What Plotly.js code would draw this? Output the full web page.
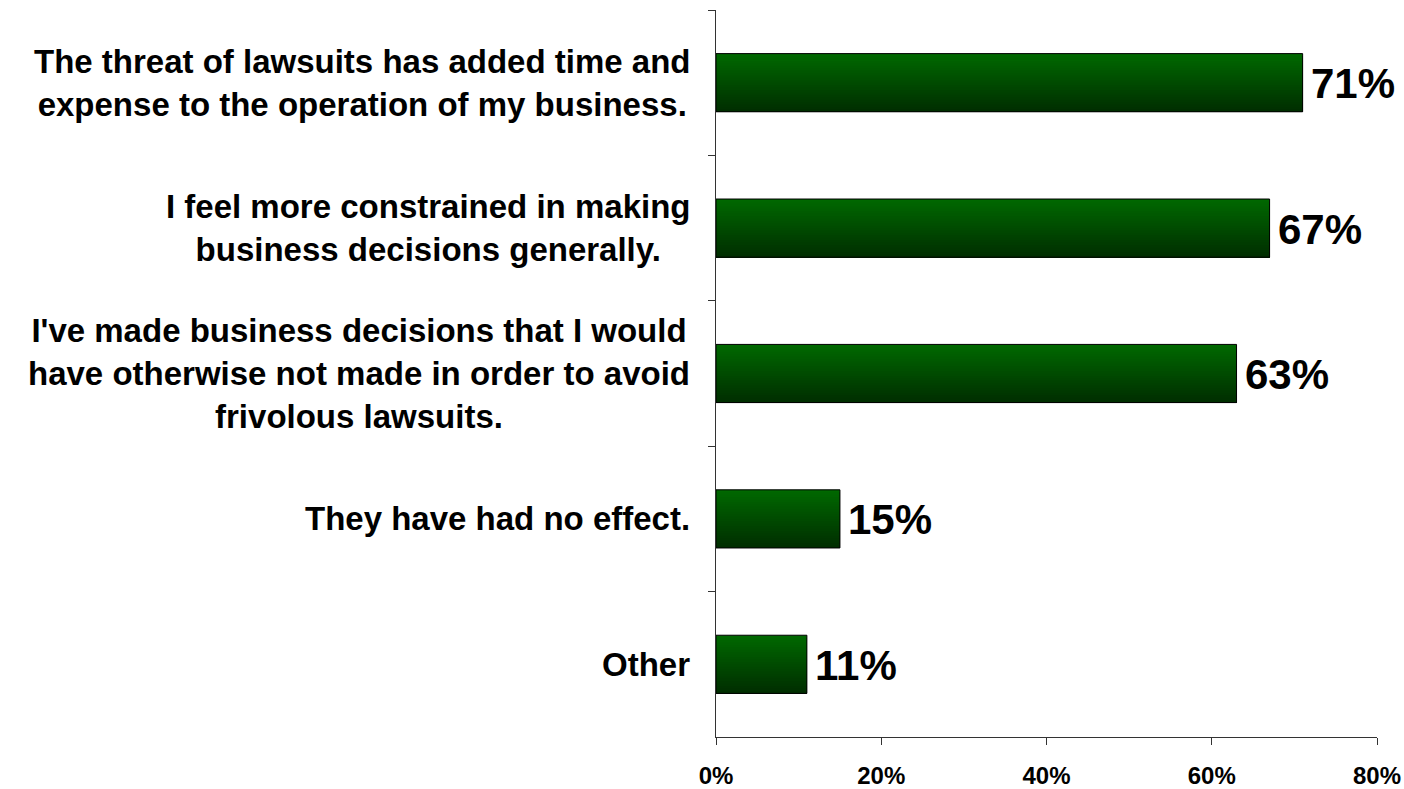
<!DOCTYPE html>
<html>
<head>
<meta charset="utf-8">
<script src="https://cdn.plot.ly/plotly-3.0.1.min.js"></script>
<style>html,body{margin:0;padding:0;background:#fff;}#chart{width:1404px;height:789px;}</style>
</head>
<body>
<div id="chart"></div>
<script>
const categories = [
  "The threat of lawsuits has added time and<br>expense to the operation of my business.",
  "I feel more constrained in making<br>business decisions generally.",
  "I've made business decisions that I would<br>have otherwise not made in order to avoid<br>frivolous lawsuits.",
  "They have had no effect.",
  "Other"
];
const values = [71, 67, 63, 15, 11];
const xTickValues = [0, 20, 40, 60, 80];

const FONT = "Arial, 'Liberation Sans', sans-serif";
const BAR_W = 0.4;
const N = 24;
const topC = [0, 104, 0], botC = [0, 46, 0];

const traces = [];
for (let k = 0; k < N; k++) {
  const t = k / (N - 1);
  const c = topC.map((a, i) => Math.round(a + (botC[i] - a) * t));
  traces.push({
    type: 'bar', orientation: 'h',
    y: categories, x: values,
    width: BAR_W - k * BAR_W / N,
    offset: -BAR_W / 2 + k * BAR_W / N,
    marker: {color: `rgb(${c[0]},${c[1]},${c[2]})`, line: {width: 0}},
    hoverinfo: 'skip', showlegend: false
  });
}
traces.push({
  type: 'bar', orientation: 'h',
  y: categories, x: values,
  width: BAR_W,
  marker: {color: 'rgba(0,0,0,0)', line: {width: 1, color: '#000'}},
  showlegend: false
});

const catAnnotations = categories.map(c => ({
  xref: 'paper', yref: 'y', x: -0.036, y: c,
  xanchor: 'right', yanchor: 'middle', align: 'center',
  text: c, showarrow: false,
  font: {family: FONT, size: 33, color: '#000', weight: 'bold'}
}));
const valAnnotations = values.map((v, i) => ({
  xref: 'x', yref: 'y', x: v, y: categories[i],
  xanchor: 'left', yanchor: 'middle', xshift: 6, yshift: -1,
  text: v + '%', showarrow: false,
  font: {family: FONT, size: 42, color: '#000', weight: 'bold'}
}));

const layout = {
  width: 1404, height: 789,
  margin: {l: 716, r: 27, t: 10, b: 52},
  paper_bgcolor: '#fff', plot_bgcolor: '#fff',
  barmode: 'overlay',
  showlegend: false,
  xaxis: {
    range: [0, 80], tickvals: xTickValues, ticktext: xTickValues.map(v => v + '%'),
    showgrid: false, zeroline: false, showline: true, linecolor: '#333', linewidth: 1,
    ticks: 'outside', ticklen: 7, tickcolor: '#333', ticklabelstandoff: 10,
    tickfont: {family: FONT, size: 24, color: '#000', weight: 'bold'}
  },
  yaxis: {
    type: 'category', autorange: 'reversed', categoryorder: 'array', categoryarray: categories,
    showgrid: false, zeroline: false, showline: true, linecolor: '#333', linewidth: 1,
    ticks: 'outside', ticklen: 7, tickcolor: '#333', tickson: 'boundaries',
    showticklabels: false
  },
  annotations: catAnnotations.concat(valAnnotations)
};

Plotly.newPlot('chart', traces, layout, {displayModeBar: false, staticPlot: true});
</script>
</body>
</html>
